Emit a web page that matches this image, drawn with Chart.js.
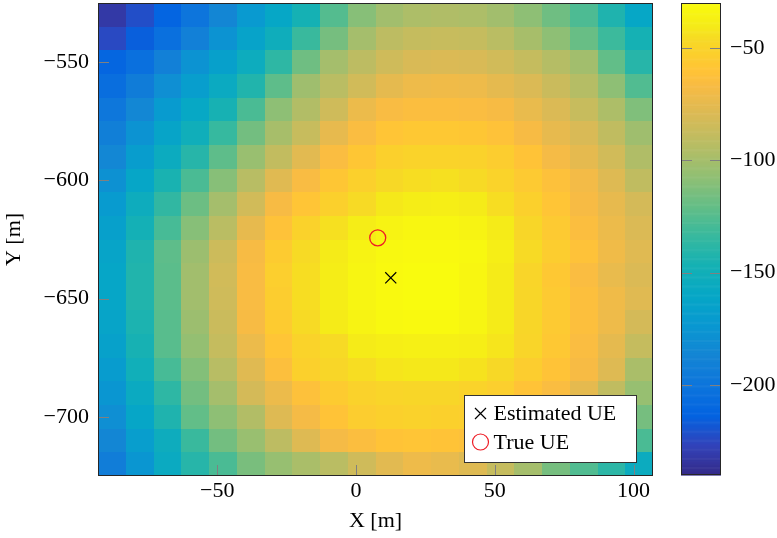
<!DOCTYPE html>
<html>
<head>
<meta charset="utf-8">
<script src="https://cdn.jsdelivr.net/npm/chart.js@4.4.1/dist/chart.umd.min.js"></script>
<style>
  html, body { margin: 0; padding: 0; background: #fff; }
  #wrap { position: relative; width: 777px; height: 538px; }
  #mapBox { position: absolute; left: 0; top: 0; width: 665px; height: 538px; }
  #barBox { position: absolute; left: 640px; top: 0; width: 137px; height: 538px; }
</style>
</head>
<body>
<div id="wrap">
  <div id="mapBox"><canvas id="map"></canvas></div>
  <div id="barBox"><canvas id="bar"></canvas></div>
</div>
<script>
/* ---- data ---- */
// cell centres of the power map (m), 10 m cells
const xCenters = [-88, -78, -68, -58, -48, -38, -28, -18, -8, 2, 12, 22, 32, 42, 52, 62, 72, 82, 92, 102];
const yCenters = [-530, -540, -550, -560, -570, -580, -590, -600, -610, -620,
                  -630, -640, -650, -660, -670, -680, -690, -700, -710, -720];

// received power per cell (dB), one row per yCenters entry, columns follow xCenters
const power = [
  [-232, -222, -212, -200, -186, -172, -160, -147, -125, -110, -101, -97, -96, -97, -101, -108, -117, -127, -143, -160],
  [-224, -215, -204, -191, -177, -164, -152, -133, -115, -100, -91, -88, -87, -88, -92, -99, -108, -119, -132, -147],
  [-211, -204, -191, -177, -166, -154, -137, -117, -100, -91, -84, -80, -79, -80, -83, -88, -94, -101, -121, -140],
  [-205, -194, -180, -168, -156, -142, -122, -102, -92, -83, -75, -71, -70, -71, -75, -79, -86, -94, -108, -126],
  [-198, -185, -171, -159, -146, -128, -108, -95, -84, -72, -66, -64, -64, -65, -67, -73, -79, -87, -97, -112],
  [-192, -177, -163, -151, -134, -116, -99, -87, -74, -65, -59, -57, -57, -58, -61, -67, -74, -80, -90, -102],
  [-185, -169, -155, -140, -122, -104, -89, -76, -65, -58, -52, -50, -50, -51, -54, -60, -68, -75, -83, -96],
  [-178, -161, -145, -128, -110, -93, -77, -66, -58, -52, -47, -45, -44, -46, -50, -56, -62, -69, -78, -90],
  [-171, -153, -136, -118, -100, -83, -67, -59, -52, -46, -41, -39, -38, -40, -45, -52, -59, -67, -74, -82],
  [-166, -148, -129, -110, -92, -74, -61, -51, -44, -39, -35, -33, -33, -35, -40, -48, -56, -64, -72, -79],
  [-163, -143, -122, -103, -85, -67, -55, -46, -40, -35, -32, -31, -31, -32, -38, -46, -54, -61, -70, -77],
  [-161, -142, -123, -101, -83, -66, -53, -45, -39, -34, -31, -30, -30, -33, -40, -49, -57, -65, -73, -79],
  [-161, -142, -123, -101, -84, -66, -54, -45, -39, -34, -31, -30, -30, -33, -40, -48, -56, -63, -70, -77],
  [-163, -144, -124, -103, -86, -67, -55, -46, -40, -35, -32, -31, -31, -34, -40, -48, -56, -63, -71, -82],
  [-165, -146, -124, -106, -88, -72, -59, -50, -46, -40, -38, -37, -37, -38, -42, -49, -57, -65, -75, -88],
  [-170, -150, -129, -111, -93, -77, -63, -52, -48, -45, -42, -41, -41, -43, -47, -54, -60, -67, -78, -98],
  [-175, -156, -137, -116, -100, -82, -72, -62, -55, -51, -49, -48, -48, -50, -53, -60, -65, -75, -90, -105],
  [-180, -161, -143, -121, -108, -95, -78, -68, -60, -54, -52, -51, -52, -53, -58, -63, -75, -87, -101, -115],
  [-186, -168, -153, -133, -116, -104, -91, -78, -68, -64, -60, -59, -60, -62, -70, -80, -92, -102, -115, -128],
  [-193, -175, -156, -140, -128, -114, -105, -98, -92, -84, -76, -71, -73, -78, -88, -100, -115, -126, -138, -155]
];

const estX = [12.5];
const estY = [-641.2];
const trueX = [7.8];
const trueY = [-624.3];

const xRange = [-93, 107];
const yRange = [-725, -525];
const cRange = [-240, -30];
const xTicks = [-50, 0, 50, 100];
const yTicks = [-550, -600, -650, -700];
const cTicks = [-200, -150, -100, -50];

/* ---- parula colour map (position in 0..1, r, g, b) ---- */
const PARULA = [
  [0 / 63, 53, 42, 135], [4 / 63, 50, 67, 186], [8 / 63, 3, 99, 225], [12 / 63, 13, 117, 220],
  [16 / 63, 20, 133, 212], [20 / 63, 9, 152, 209], [24 / 63, 6, 167, 198], [28 / 63, 21, 177, 180],
  [32 / 63, 56, 185, 158], [36 / 63, 101, 190, 134], [40 / 63, 146, 191, 115], [44 / 63, 183, 189, 100],
  [48 / 63, 217, 186, 86], [52 / 63, 248, 187, 68], [54 / 63, 255, 195, 55], [56 / 63, 252, 206, 46],
  [58 / 63, 247, 216, 38], [60 / 63, 245, 235, 24], [63 / 63, 249, 251, 14]
];

function colorFor(v) {
  let t = (v - cRange[0]) / (cRange[1] - cRange[0]);
  t = Math.min(1, Math.max(0, t));
  let k = 0;
  while (k < PARULA.length - 2 && PARULA[k + 1][0] < t) k++;
  const a = PARULA[k], b = PARULA[k + 1];
  const f = (t - a[0]) / (b[0] - a[0]);
  const c = [1, 2, 3].map(i => Math.round(a[i] + (b[i] - a[i]) * f));
  return `rgb(${c[0]},${c[1]},${c[2]})`;
}

const fmt = v => String(v).replace('-', '\u2212');
const FONT = '"Liberation Serif", "Times New Roman", serif';
Chart.defaults.font.family = FONT;
Chart.defaults.font.size = 22;
Chart.defaults.color = '#000';

// keep the plot box exactly where the layout padding puts it
const noEdgePad = s => { s.paddingTop = 0; s.paddingBottom = 0; s.paddingLeft = 0; s.paddingRight = 0; };

/* ---- plugins ---- */
const heatmap = {
  id: 'heatmap',
  beforeDatasetsDraw(chart) {
    const { ctx, scales: { x, y } } = chart;
    const hx = (xCenters[1] - xCenters[0]) / 2;
    const hy = (yCenters[0] - yCenters[1]) / 2;
    ctx.save();
    power.forEach((row, j) => {
      row.forEach((v, i) => {
        const l = Math.round(x.getPixelForValue(xCenters[i] - hx));
        const r = Math.round(x.getPixelForValue(xCenters[i] + hx));
        const t = Math.round(y.getPixelForValue(yCenters[j] + hy));
        const b = Math.round(y.getPixelForValue(yCenters[j] - hy));
        ctx.fillStyle = colorFor(v);
        ctx.fillRect(l, t, r - l, b - t);
      });
    });
    ctx.restore();
  }
};

const frame = {
  id: 'frame',
  afterDatasetsDraw(chart) {
    const { ctx, chartArea: a, scales: { x, y } } = chart;
    ctx.save();
    ctx.lineWidth = 1;
    ctx.strokeStyle = '#808080';
    ctx.beginPath();
    yTicks.forEach(v => {
      const py = Math.round(y.getPixelForValue(v)) + 0.5;
      ctx.moveTo(a.left, py); ctx.lineTo(a.left + 11, py);
    });
    xTicks.forEach(v => {
      const px = Math.round(x.getPixelForValue(v)) + 0.5;
      ctx.moveTo(px, a.bottom); ctx.lineTo(px, a.bottom - 11);
    });
    ctx.stroke();
    ctx.strokeStyle = '#262626';
    ctx.strokeRect(Math.round(a.left) + 0.5, Math.round(a.top) + 0.5,
                   Math.round(a.right - a.left) - 1, Math.round(a.bottom - a.top) - 1);
    ctx.restore();
  },
  afterDraw(chart) {
    // legend box, lower right corner
    const { ctx, chartArea: a } = chart;
    const w = 172, h = 67;
    const L = Math.round(a.right - 17.5 - w) + 0.5, T = Math.round(a.bottom - 14.5 - h) + 0.5;
    ctx.save();
    ctx.fillStyle = '#fff';
    ctx.fillRect(L, T, w, h);
    ctx.strokeStyle = '#333';
    ctx.lineWidth = 1;
    ctx.strokeRect(L, T, w, h);
    const mx = L + 16, y1 = T + 18, y2 = T + 46.5;
    ctx.strokeStyle = '#000';
    ctx.lineWidth = 1.2;
    ctx.beginPath();
    ctx.moveTo(mx - 5.5, y1 - 5.5); ctx.lineTo(mx + 5.5, y1 + 5.5);
    ctx.moveTo(mx - 5.5, y1 + 5.5); ctx.lineTo(mx + 5.5, y1 - 5.5);
    ctx.stroke();
    ctx.strokeStyle = '#ee1c25';
    ctx.beginPath();
    ctx.arc(mx, y2, 8, 0, Math.PI * 2);
    ctx.stroke();
    ctx.fillStyle = '#000';
    ctx.font = '22px ' + FONT;
    ctx.textBaseline = 'middle';
    ctx.fillText('Estimated UE', L + 29, y1 + 1);
    ctx.fillText('True UE', L + 29, y2 + 1);
    ctx.restore();
  }
};

const colorbar = {
  id: 'colorbar',
  beforeDatasetsDraw(chart) {
    const { ctx, chartArea: a, scales: { y } } = chart;
    const steps = 420;
    ctx.save();
    for (let k = 0; k < steps; k++) {
      const v0 = cRange[0] + (cRange[1] - cRange[0]) * k / steps;
      const v1 = cRange[0] + (cRange[1] - cRange[0]) * (k + 1) / steps;
      const p0 = y.getPixelForValue(v0), p1 = y.getPixelForValue(v1);
      ctx.fillStyle = colorFor((v0 + v1) / 2);
      ctx.fillRect(a.left, p1, a.right - a.left, p0 - p1 + 0.6);
    }
    ctx.strokeStyle = '#808080';
    ctx.lineWidth = 1;
    ctx.beginPath();
    cTicks.forEach(v => {
      const py = Math.round(y.getPixelForValue(v)) + 0.5;
      ctx.moveTo(a.left, py); ctx.lineTo(a.left + 11, py);
      ctx.moveTo(a.right, py); ctx.lineTo(a.right - 11, py);
    });
    ctx.stroke();
    ctx.strokeStyle = '#262626';
    ctx.strokeRect(Math.round(a.left) + 0.5, Math.round(a.top) + 0.5,
                   Math.round(a.right - a.left) - 1, Math.round(a.bottom - a.top) - 1);
    ctx.restore();
  }
};

/* ---- main map ---- */
new Chart(document.getElementById('map'), {
  type: 'scatter',
  data: {
    datasets: [
      {
        label: 'Estimated UE',
        data: estX.map((x, i) => ({ x, y: estY[i] })),
        pointStyle: 'crossRot',
        pointRadius: 7.8,
        borderColor: '#000',
        borderWidth: 1.2,
      },
      {
        label: 'True UE',
        data: trueX.map((x, i) => ({ x, y: trueY[i] })),
        pointStyle: 'circle',
        pointRadius: 8,
        borderColor: '#ee1c25',
        backgroundColor: 'rgba(0,0,0,0)',
        borderWidth: 1.3,
      },
    ],
  },
  options: {
    responsive: true,
    maintainAspectRatio: false,
    animation: false,
    layout: { autoPadding: false, padding: { left: 0, top: 3, right: 12, bottom: 0 } },
    plugins: { legend: { display: false }, tooltip: { enabled: false } },
    scales: {
      x: {
        type: 'linear', min: xRange[0], max: xRange[1],
        afterBuildTicks: s => { s.ticks = xTicks.map(v => ({ value: v })); },
        afterFit: s => { s.height = 62; noEdgePad(s); },
        ticks: { padding: 2, callback: fmt, maxRotation: 0 },
        grid: { display: false, drawTicks: false },
        border: { display: false },
        title: { display: true, text: 'X [m]', padding: { top: 0, bottom: 4 } },
      },
      y: {
        type: 'linear', min: yRange[0], max: yRange[1],
        afterBuildTicks: s => { s.ticks = yTicks.map(v => ({ value: v })); },
        afterFit: s => { s.width = 98; noEdgePad(s); },
        ticks: { padding: 9, callback: fmt },
        grid: { display: false, drawTicks: false },
        border: { display: false },
        title: { display: true, text: 'Y [m]', padding: { top: 1, bottom: 0 } },
      },
    },
  },
  plugins: [heatmap, frame],
});

/* ---- colour bar ---- */
new Chart(document.getElementById('bar'), {
  type: 'scatter',
  data: { datasets: [] },
  options: {
    responsive: true,
    maintainAspectRatio: false,
    animation: false,
    layout: { autoPadding: false, padding: { left: 41, top: 3, right: 0, bottom: 63 } },
    plugins: { legend: { display: false }, tooltip: { enabled: false } },
    scales: {
      x: { display: false, min: 0, max: 1 },
      y: {
        position: 'right', min: cRange[0], max: cRange[1],
        afterBuildTicks: s => { s.ticks = cTicks.map(v => ({ value: v })); },
        afterFit: s => { s.width = 56; noEdgePad(s); },
        ticks: { padding: 9, callback: fmt },
        grid: { display: false, drawTicks: false },
        border: { display: false },
      },
    },
  },
  plugins: [colorbar],
});
</script>
</body>
</html>
